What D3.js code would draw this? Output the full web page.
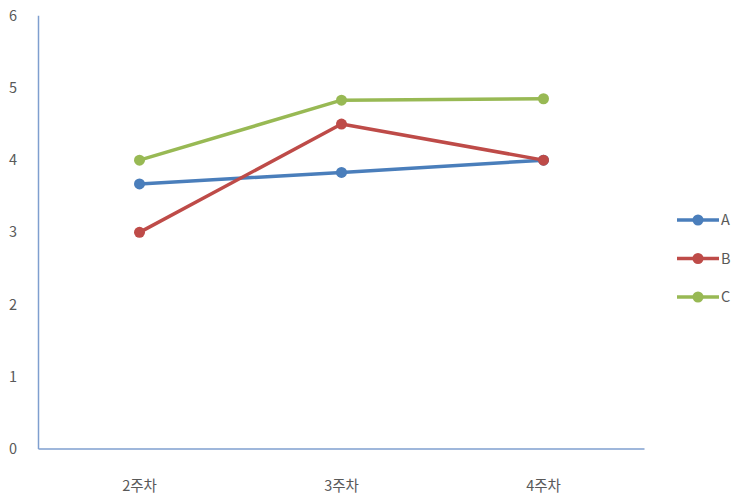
<!DOCTYPE html>
<html><head><meta charset="utf-8">
<script src="https://cdn.jsdelivr.net/npm/d3@7"></script>
<style>body{margin:0;background:#fff}svg{display:block}text{font-family:"Noto Sans CJK KR","Noto Sans",sans-serif;fill:#595959;font-size:14.5px}</style>
</head><body><svg id="c" width="733" height="498"></svg>
<script>
const categories = ["2주차","3주차","4주차"];
const seriesNames = ["A","B","C"];
const valuesA = [3.67, 3.83, 4.0];
const valuesB = [3.0, 4.5, 4.0];
const valuesC = [4.0, 4.83, 4.85];
const yTicks = [0,1,2,3,4,5,6];
const colors = ["#4a7ebb","#be4b48","#98b954"];
const series = [valuesA, valuesB, valuesC];

const svg = d3.select("#c");
const x = d3.scaleBand().domain(categories).range([38.5, 644.5]);
const y = d3.scaleLinear().domain([0,6]).range([449, 15.7]);

// y axis labels
svg.append("g").selectAll("text").data(yTicks).join("text")
  .attr("x", 13).attr("y", d => y(d)).attr("dy","0.35em").attr("text-anchor","middle").text(d => d);
// x labels
svg.append("g").selectAll("text").data(categories).join("text")
  .attr("x", d => x(d) + x.bandwidth()/2).attr("y", 486).attr("dy","0.35em").attr("text-anchor","middle").text(d => d);
// axes lines
svg.append("line").attr("x1", x.range()[0]).attr("x2", x.range()[0]).attr("y1", y(6)).attr("y2", y(0))
  .attr("stroke","#7f9fcf").attr("stroke-width",1.5);
svg.append("line").attr("x1", x.range()[0]).attr("x2", x.range()[1]).attr("y1", y(0)).attr("y2", y(0))
  .attr("stroke","#7f9fcf").attr("stroke-width",1.5);

const line = d3.line().x((d,i) => x(categories[i]) + x.bandwidth()/2).y(d => y(d));
series.forEach((vals, si) => {
  const g = svg.append("g");
  g.append("path").attr("d", line(vals)).attr("fill","none").attr("stroke", colors[si])
    .attr("stroke-width", 3.5).attr("stroke-linejoin","round");
  g.selectAll("circle").data(vals).join("circle")
    .attr("cx", (d,i) => x(categories[i]) + x.bandwidth()/2).attr("cy", d => y(d))
    .attr("r", 5.5).attr("fill", colors[si]);
});

// legend
const leg = svg.append("g");
seriesNames.forEach((n, i) => {
  const ly = 220 + i*38.5;
  leg.append("line").attr("x1", 677).attr("x2", 719).attr("y1", ly).attr("y2", ly)
    .attr("stroke", colors[i]).attr("stroke-width", 3.5);
  leg.append("circle").attr("cx", 698).attr("cy", ly).attr("r", 5.5).attr("fill", colors[i]);
  leg.append("text").attr("x", 721).attr("y", ly).attr("dy","0.35em").text(n);
});
</script></body></html>
